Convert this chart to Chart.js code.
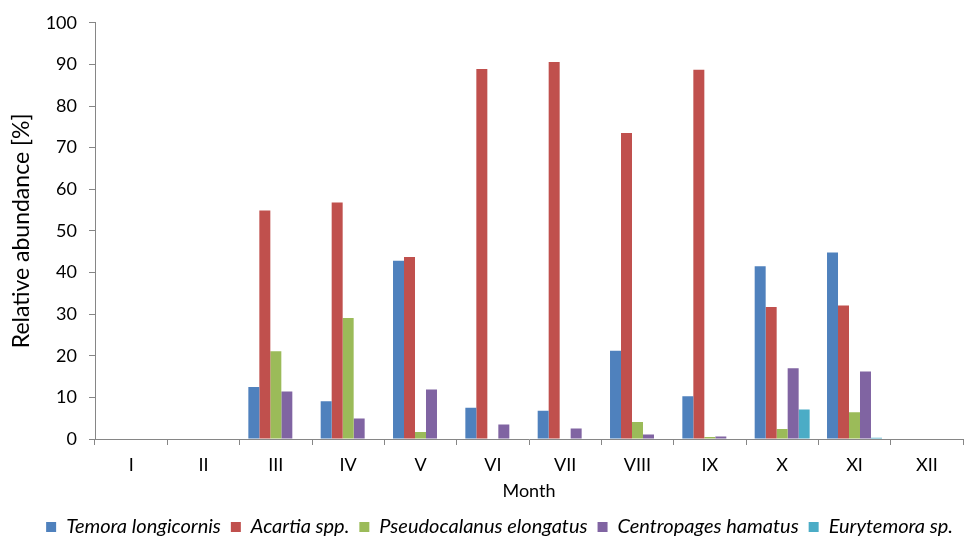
<!DOCTYPE html>
<html>
<head>
<meta charset="utf-8">
<script src="https://cdn.jsdelivr.net/npm/chart.js@4"></script>
<style>
  html, body { margin: 0; padding: 0; background: #fff; }
  #wrap { width: 964px; height: 537px; }
</style>
</head>
<body>
<div id="wrap"><canvas id="myChart" width="964" height="537"></canvas></div>
<script>
const months = ['I', 'II', 'III', 'IV', 'V', 'VI', 'VII', 'VIII', 'IX', 'X', 'XI', 'XII'];
const temora = [0, 0, 12.5, 9.1, 42.8, 7.5, 6.8, 21.2, 10.3, 41.5, 44.8, 0];
const acartia = [0, 0, 54.9, 56.8, 43.7, 88.9, 90.6, 73.5, 88.7, 31.7, 32.1, 0];
const pseudocalanus = [0, 0, 21.1, 29.1, 1.7, 0, 0, 4.1, 0.5, 2.4, 6.4, 0];
const centropages = [0, 0, 11.4, 4.9, 11.9, 3.5, 2.5, 1.1, 0.6, 17.0, 16.2, 0];
const eurytemora = [0, 0, 0, 0, 0, 0, 0, 0, 0, 7.1, 0.3, 0];
const yTicks = [0, 10, 20, 30, 40, 50, 60, 70, 80, 90, 100];

const ctx = document.getElementById('myChart').getContext('2d');
const font = 'Lato, "Liberation Sans", sans-serif';

function serie(label, data, color) {
    return {
        label: label,
        data: data,
        backgroundColor: color,
        borderWidth: 0,
        categoryPercentage: 0.76,
        barPercentage: 1.0
    };
}

// legend row is wide (big padding between items) but should stay short
const legendHeight = {
    id: 'legendHeight',
    afterInit(chart) {
        const lg = chart.legend;
        if (!lg) return;
        const fit = lg.fit;
        lg.fit = function () {
            fit.call(this);
            this.height = 30;
        };
    }
};

const myChart = new Chart(ctx, {
    type: 'bar',
    data: {
        labels: months,
        datasets: [
            serie('Temora longicornis', temora, '#4F81BD'),
            serie('Acartia spp.', acartia, '#C0504D'),
            serie('Pseudocalanus elongatus', pseudocalanus, '#9BBB59'),
            serie('Centropages hamatus', centropages, '#8064A2'),
            serie('Eurytemora sp.', eurytemora, '#4BACC6')
        ]
    },
    plugins: [legendHeight],
    options: {
        responsive: false,
        animation: false,
        layout: { padding: { top: 7, right: 1, left: 0, bottom: 0 } },
        plugins: {
            tooltip: { enabled: false },
            legend: {
                position: 'bottom',
                align: 'end',
                labels: {
                    boxWidth: 10,
                    boxHeight: 10,
                    padding: 10,
                    color: '#000',
                    font: { family: font, size: 20, style: 'italic' }
                }
            }
        },
        scales: {
            x: {
                offset: true,
                grid: {
                    offset: true,
                    drawOnChartArea: false,
                    drawTicks: true,
                    tickLength: 6,
                    color: '#868686'
                },
                border: { color: '#868686', width: 1 },
                ticks: { color: '#000', padding: 9, font: { family: font, size: 18 } },
                title: {
                    display: true,
                    text: 'Month',
                    color: '#000',
                    padding: { top: 4, bottom: 5 },
                    font: { family: font, size: 18 }
                },
                afterFit: function (scale) { scale.height = 68; }
            },
            y: {
                min: 0,
                max: 100,
                afterBuildTicks: function (scale) {
                    scale.ticks = yTicks.map(v => ({ value: v }));
                },
                grid: {
                    drawOnChartArea: false,
                    drawTicks: true,
                    tickLength: 6,
                    color: '#868686'
                },
                border: { color: '#868686', width: 1 },
                ticks: { color: '#000', padding: 12, font: { family: font, size: 18 } },
                title: {
                    display: true,
                    text: 'Relative abundance [%]',
                    color: '#000',
                    padding: { top: 8, bottom: 0 },
                    font: { family: font, size: 23 }
                },
                afterFit: function (scale) { scale.width = 95; }
            }
        }
    }
});
</script>
</body>
</html>
